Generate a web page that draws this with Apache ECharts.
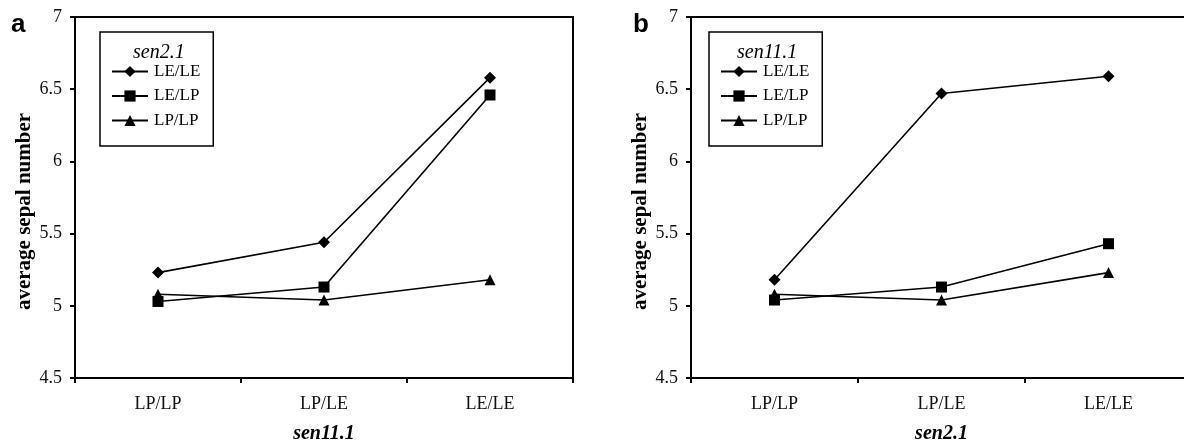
<!DOCTYPE html>
<html>
<head>
<meta charset="utf-8">
<script src="https://cdn.jsdelivr.net/npm/echarts@6/dist/echarts.min.js"></script>
<style>
html,body{margin:0;padding:0;background:#fff;overflow:hidden;}
#chart{width:1200px;height:441px;}
</style>
</head>
<body>
<div id="chart"></div>
<script>
const categories = ['LP/LP', 'LP/LE', 'LE/LE'];
const seriesNames = ['LE/LE', 'LE/LP', 'LP/LP'];
const panelA_LELE = [5.23, 5.44, 6.58];
const panelA_LELP = [5.03, 5.13, 6.46];
const panelA_LPLP = [5.08, 5.04, 5.18];
const panelB_LELE = [5.18, 6.47, 6.59];
const panelB_LELP = [5.04, 5.13, 5.43];
const panelB_LPLP = [5.08, 5.04, 5.23];
const yMin = 4.5, yMax = 7, yStep = 0.5;
const panelLabels = ['a', 'b'];
const xNames = ['sen11.1', 'sen2.1'];
const legendTitles = ['sen2.1', 'sen11.1'];
const yName = 'average sepal number';

const serif = 'Liberation Serif, Times New Roman, serif';
const symbols = ['diamond', 'rect', 'triangle'];
const symSizes = [12, 11, 11];
const panelData = [[panelA_LELE, panelA_LELP, panelA_LPLP], [panelB_LELE, panelB_LELP, panelB_LPLP]];

const grids = [
  {left: 75, top: 17, width: 498, height: 361},
  {left: 691, top: 17, width: 501, height: 361}
];

function xAxis(i) {
  return {
    type: 'category', gridIndex: i, data: categories, boundaryGap: true,
    axisLine: {lineStyle: {color: '#000', width: 2}},
    axisTick: {show: true, length: 5, lineStyle: {color: '#000', width: 2}},
    axisLabel: {color: '#111', fontFamily: serif, fontSize: 18, margin: 17},
    name: xNames[i], nameLocation: 'middle', nameGap: 46,
    nameTextStyle: {color: '#000', fontFamily: serif, fontSize: 20, fontWeight: 'bold', fontStyle: 'italic'}
  };
}
function yAxis(i) {
  return {
    type: 'value', gridIndex: i, min: yMin, max: yMax, interval: yStep,
    splitLine: {show: false},
    axisLine: {show: true, lineStyle: {color: '#000', width: 2}},
    axisTick: {show: true, length: 5, lineStyle: {color: '#000', width: 2}},
    axisLabel: {color: '#111', fontFamily: serif, fontSize: 18, margin: 13},
    name: yName, nameLocation: 'middle', nameRotate: 90, nameGap: 40,
    nameTextStyle: {color: '#000', fontFamily: serif, fontSize: 21, fontWeight: 'bold', padding: [0, 28, 0, 0]}
  };
}

const series = [];
for (let p = 0; p < 2; p++) {
  for (let s = 0; s < 3; s++) {
    series.push({
      type: 'line', name: seriesNames[s], xAxisIndex: p, yAxisIndex: p,
      data: panelData[p][s], symbol: symbols[s], symbolSize: symSizes[s],
      showSymbol: true, animation: false,
      lineStyle: {color: '#000', width: 1.6},
      itemStyle: {color: '#000'}
    });
  }
}

const legendLefts = [100, 709];
const legendTitleLefts = [133, 737];
const labelLefts = [11, 633];

const option = {
  backgroundColor: '#fff',
  animation: false,
  grid: grids.map(g => Object.assign({show: true, borderColor: '#000', borderWidth: 2, backgroundColor: 'transparent', containLabel: false, outerBoundsMode: 'none'}, g)),
  xAxis: [xAxis(0), xAxis(1)],
  yAxis: [yAxis(0), yAxis(1)],
  title: [
    {text: panelLabels[0], left: labelLefts[0], top: 12, padding: 0, textStyle: {fontFamily: 'Liberation Sans, Arial, sans-serif', fontWeight: 'bold', fontSize: 26, color: '#000'}},
    {text: panelLabels[1], left: labelLefts[1], top: 12, padding: 0, textStyle: {fontFamily: 'Liberation Sans, Arial, sans-serif', fontWeight: 'bold', fontSize: 26, color: '#000'}},
    {text: legendTitles[0], left: legendTitleLefts[0], top: 43, padding: 0, textStyle: {fontFamily: serif, fontStyle: 'italic', fontWeight: 'normal', fontSize: 20, color: '#000'}},
    {text: legendTitles[1], left: legendTitleLefts[1], top: 43, padding: 0, textStyle: {fontFamily: serif, fontStyle: 'italic', fontWeight: 'normal', fontSize: 20, color: '#000'}}
  ],
  legend: [0, 1].map(i => ({
    left: legendLefts[i], top: 32, orient: 'vertical',
    data: seriesNames,
    padding: [31, 13, 17, 11],
    itemWidth: 36, itemHeight: 14, itemGap: 7.5,
    borderColor: '#000', borderWidth: 1.5,
    selectedMode: false,
    textStyle: {fontFamily: serif, fontSize: 17, color: '#000', padding: [0, 0, 0, 1]}
  })),
  series: series
};

const chart = echarts.init(document.getElementById('chart'), null, {renderer: 'canvas'});
chart.setOption(option);
</script>
</body>
</html>
